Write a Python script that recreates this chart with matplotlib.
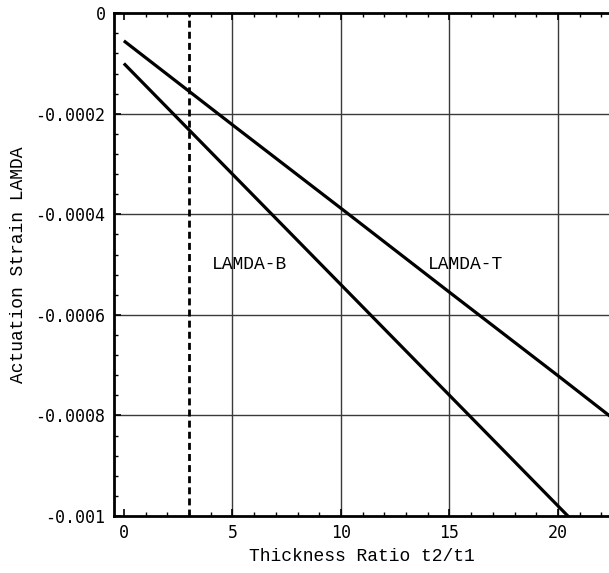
import matplotlib
matplotlib.use("Agg")
import matplotlib.pyplot as plt
from matplotlib.ticker import MultipleLocator, FixedLocator, FuncFormatter

# Thickness ratio t2/t1 and the two actuation strain curves
ratio = [0, 5, 10, 15, 20, 22.5]
lamda_t = [-0.000055, -0.000222, -0.000388, -0.000555, -0.000721, -0.000805]
lamda_b = [-0.0001, -0.00032, -0.00054, -0.00076, -0.00098, -0.00109]
design_ratio = 3

x_ticks = [0, 5, 10, 15, 20]
y_ticks = [0, -0.0002, -0.0004, -0.0006, -0.0008, -0.001]
y_tick_labels = ["0", "-0.0002", "-0.0004", "-0.0006", "-0.0008", "-0.001"]

mono = "Liberation Mono"
tick_font = "DejaVu Sans Mono"

fig = plt.figure(figsize=(6.09, 5.73), dpi=100)
ax = fig.add_axes([0.187, 0.0995, 0.813, 0.8775])

ax.plot(ratio, lamda_t, color="black", lw=2.3, solid_capstyle="butt")
ax.plot(ratio, lamda_b, color="black", lw=2.3, solid_capstyle="butt")
ax.axvline(design_ratio, color="black", lw=2.0, linestyle=(0, (2.5, 1.5)))

ax.set_xlim(-0.46, 22.35)
ax.set_ylim(-0.001, 0)

# grid at interior major positions only
for gx in x_ticks[1:]:
    ax.axvline(gx, color="#3a3a3a", lw=1.0, zorder=0)
for gy in y_ticks[1:-1]:
    ax.axhline(gy, color="#3a3a3a", lw=1.0, zorder=0)

ax.xaxis.set_major_locator(FixedLocator(x_ticks))
ax.xaxis.set_minor_locator(MultipleLocator(1))
ax.yaxis.set_major_locator(FixedLocator(y_ticks))
ax.yaxis.set_minor_locator(MultipleLocator(0.00004))
ax.yaxis.set_major_formatter(FuncFormatter(
    lambda v, p: y_tick_labels[min(range(len(y_ticks)), key=lambda i: abs(y_ticks[i] - v))]))

ax.tick_params(which="both", direction="in", top=True, right=False, color="black")
ax.tick_params(which="major", length=5, width=1.2)
ax.tick_params(which="minor", length=3, width=1.0)
ax.tick_params(axis="both", labelsize=12, pad=6)
for lab in ax.get_xticklabels() + ax.get_yticklabels():
    lab.set_family(tick_font)

for side in ("left", "bottom", "top"):
    ax.spines[side].set_linewidth(2.0)
ax.spines["right"].set_visible(False)

ax.set_xlabel("Thickness Ratio t2/t1", family=mono, fontsize=13, labelpad=4)
ax.set_ylabel("Actuation Strain LAMDA", family=mono, fontsize=13, labelpad=6)

ax.text(4.06, -0.0005, "LAMDA-B", family=mono, fontsize=13, va="center", ha="left")
ax.text(14.0, -0.0005, "LAMDA-T", family=mono, fontsize=13, va="center", ha="left")

fig.savefig("out.png", dpi=100, facecolor="white")
